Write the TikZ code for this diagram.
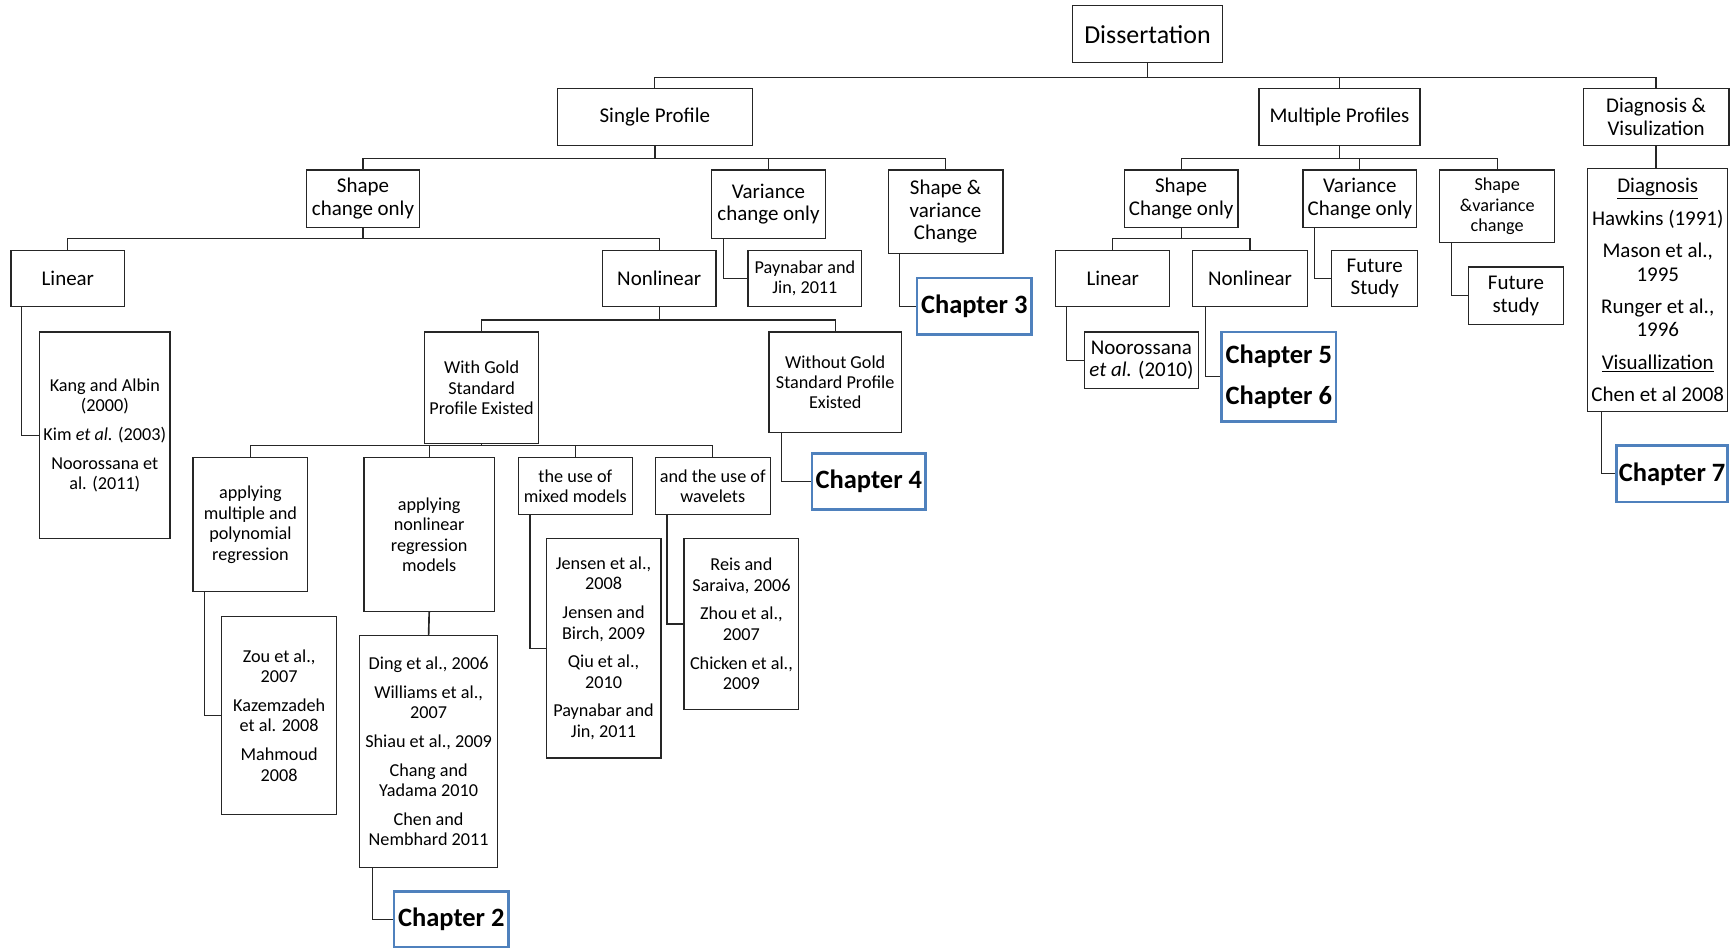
\documentclass[tikz,border=0pt]{standalone}
\usepackage{fontspec}
\setmainfont{Carlito}
\definecolor{chapblue}{RGB}{79,129,189}
\newcommand\fszbig{\fontsize{19}{20.5}\selectfont}
\newcommand\fszsmall{\fontsize{16.5}{18.5}\selectfont}
\newcommand\fsztitle{\fontsize{23.5}{28}\selectfont}
\newcommand\fszchap{\bfseries\fontsize{24}{29}\selectfont}
\begin{document}
\begin{tikzpicture}[x=1pt,y=-1pt,
  bx/.style={draw=black!85, line width=1.1pt, inner sep=0pt, align=center, font=\fszbig},
  sm/.style={bx, font=\fszsmall},
  chap/.style={draw=chapblue, line width=2.4pt, inner sep=0pt, align=center, font=\fszchap},
  ln/.style={draw=black!85, line width=1.1pt},
  sz/.style 2 args={minimum width=#1, minimum height=#2}]
\useasboundingbox (0,0) rectangle (1568,859);

% top
\node[bx, sz={136}{52}, font=\fsztitle] (diss) at (1040,31) {Dissertation};
\node[bx, sz={177}{52}] (single) at (593.5,106) {Single Profile};
\node[bx, sz={146}{52}] (multi) at (1214,106) {Multiple Profiles};
\node[bx, sz={132}{52}] (diagv) at (1501,106) {Diagnosis \&\\Visulization};

% single profile branch
\node[bx, sz={102}{52}] (shape1) at (329,180) {Shape\\change only};
\node[bx, sz={103}{62}] (var1) at (696.5,185) {Variance\\change only};
\node[bx, sz={104}{76}] (sv1) at (857,192) {Shape \&\\variance\\Change};
\node[bx, sz={103}{51}] (lin1) at (61.5,252.5) {Linear};
\node[bx, sz={103}{51}] (nonlin1) at (597.5,252.5) {Nonlinear};
\node[sm, sz={103}{51}] (payn1) at (729.5,252.5) {Paynabar and\\Jin, 2011};
\node[chap, sz={104}{51}] (ch3) at (883,277.5) {Chapter 3};
\node[sm, sz={118}{187}] (kang) at (95,394.5) {Kang and Albin\\(2000)\\[7.5pt]Kim \textit{et al.} (2003)\\[7.5pt]Noorossana et\\al. (2011)};
\node[sm, sz={103}{101}] (gold) at (436.5,351.5) {With Gold\\Standard\\Profile Existed};
\node[sm, sz={120}{91}] (nogold) at (757,346.5) {Without Gold\\Standard Profile\\Existed};
\node[chap, sz={103}{51}] (ch4) at (787.5,436.5) {Chapter 4};
\node[sm, sz={104}{121}] (amp) at (227,475.5) {applying\\multiple and\\polynomial\\regression};
\node[sm, sz={118}{139}] (anl) at (389,484.5) {applying\\nonlinear\\regression\\models};
\node[sm, sz={103}{51}] (mixed) at (521.5,440.5) {the use of\\mixed models};
\node[sm, sz={104}{51}] (wav) at (646,440.5) {and the use of\\wavelets};
\node[sm, sz={104}{179}] (zou) at (253,648.5) {Zou et al.,\\2007\\[7.5pt]Kazemzadeh\\et al. 2008\\[7.5pt]Mahmoud\\2008};
\node[sm, sz={125}{210}] (ding) at (388.5,681) {Ding et al., 2006\\[7.5pt]Williams et al.,\\2007\\[7.5pt]Shiau et al., 2009\\[7.5pt]Chang and\\Yadama 2010\\[7.5pt]Chen and\\Nembhard 2011};
\node[chap, sz={104}{51}] (ch2) at (409,833.5) {Chapter 2};
\node[sm, sz={104}{199}] (jensen) at (547,587.5) {Jensen et al.,\\2008\\[7.5pt]Jensen and\\Birch, 2009\\[7.5pt]Qiu et al.,\\2010\\[7.5pt]Paynabar and\\Jin, 2011};
\node[sm, sz={104}{155}] (reis) at (672,565.5) {Reis and\\Saraiva, 2006\\[7.5pt]Zhou et al.,\\2007\\[7.5pt]Chicken et al.,\\2009};

% multiple profiles branch
\node[bx, sz={103}{52}] (shape2) at (1070.5,180) {Shape\\Change only};
\node[bx, sz={103}{52}] (var2) at (1232.5,180) {Variance\\Change only};
\node[sm, sz={104}{66}] (sv2) at (1357,187) {Shape\\\&variance\\change};
\node[bx, sz={103}{51}] (lin2) at (1008.5,252.5) {Linear};
\node[bx, sz={104}{51}] (nonlin2) at (1133,252.5) {Nonlinear};
\node[bx, sz={103}{51}] (noor) at (1034.5,326.5) {Noorossana\\\textit{et al.} (2010)};
\node[chap, sz={104}{81}] (ch56) at (1159,341.5) {Chapter 5\\[8pt]Chapter 6};
\node[bx, sz={78}{51}] (fut1) at (1246,252.5) {Future\\Study};
\node[bx, sz={86}{52}] (fut2) at (1374,268) {Future\\study};

% diagnosis branch
\node[bx, sz={127}{220}, font={\fontsize{19}{21}\selectfont}] (diag) at (1502.5,263) {\underline{Diagnosis}\\[8.5pt]Hawkins (1991)\\[8.5pt]Mason et al.,\\1995\\[8.5pt]Runger et al.,\\1996\\[8.5pt]\underline{Visuallization}\\[8.5pt]Chen et al 2008};
\node[chap, sz={101}{51}] (ch7) at (1515.5,429.5) {Chapter 7};

% bus levels
\coordinate (L0) at (0,70);
\coordinate (L1) at (0,144);
\coordinate (L2) at (0,216);
\coordinate (L3) at (0,290);
\coordinate (L4) at (0,404);

\draw[ln, line width=1.6pt] (diss.south) -- (diss.south |- L0);
\draw[ln] (diss.south |- L0) -| (single.north);
\draw[ln] (diss.south |- L0) -| (multi.north);
\draw[ln] (diss.south |- L0) -| (diagv.north);

\draw[ln, line width=1.5pt] (single.south) -- (single.south |- L1);
\draw[ln] (single.south |- L1) -| (shape1.north);
\draw[ln] (single.south |- L1) -| (var1.north);
\draw[ln] (single.south |- L1) -| (sv1.north);

\draw[ln] (shape1.south) -- (shape1.south |- L2);
\draw[ln] (shape1.south |- L2) -| (lin1.north);
\draw[ln] (shape1.south |- L2) -| (nonlin1.north);

\draw[ln] (nonlin1.south) -- (nonlin1.south |- L3);
\draw[ln] (nonlin1.south |- L3) -| (gold.north);
\draw[ln] (nonlin1.south |- L3) -| (nogold.north);

\draw[ln, line width=1.5pt] (gold.south) -- (gold.south |- L4);
\draw[ln] (gold.south |- L4) -| (amp.north);
\draw[ln] (gold.south |- L4) -| (anl.north);
\draw[ln] (gold.south |- L4) -| (mixed.north);
\draw[ln] (gold.south |- L4) -| (wav.north);

\draw[ln, line width=1.5pt] (anl.south) -- (ding.north);

\draw[ln, line width=1.5pt] (multi.south) -- (multi.south |- L1);
\draw[ln] (multi.south |- L1) -| (shape2.north);
\draw[ln] (multi.south |- L1) -| (var2.north);
\draw[ln] (multi.south |- L1) -| (sv2.north);

\draw[ln] (shape2.south) -- (shape2.south |- L2);
\draw[ln] (shape2.south |- L2) -| (lin2.north);
\draw[ln] (shape2.south |- L2) -| (nonlin2.north);

\draw[ln, line width=1.6pt] (diagv.south) -- (diagv.south |- diag.north);

% elbows
\draw[ln] ([xshift=11pt]var1.south west) |- (payn1.west);
\draw[ln] ([xshift=11pt]sv1.south west) |- (ch3.west);
\draw[ln] ([xshift=10pt]lin1.south west) |- (kang.west);
\draw[ln] ([xshift=12pt]nogold.south west) |- (ch4.west);
\draw[ln] ([xshift=11pt]amp.south west) |- (zou.west);
\draw[ln] ([xshift=12pt]ding.south west) |- (ch2.west);
\draw[ln] ([xshift=11pt]mixed.south west) |- (jensen.west);
\draw[ln] ([xshift=11pt]wav.south west) |- (reis.west);
\draw[ln] ([xshift=10pt]lin2.south west) |- (noor.west);
\draw[ln] ([xshift=12pt]nonlin2.south west) |- (ch56.west);
\draw[ln] ([xshift=11pt]var2.south west) |- (fut1.west);
\draw[ln] ([xshift=11pt]sv2.south west) |- (fut2.west);
\draw[ln] ([xshift=13pt]diag.south west) |- (ch7.west);
\end{tikzpicture}
\end{document}
